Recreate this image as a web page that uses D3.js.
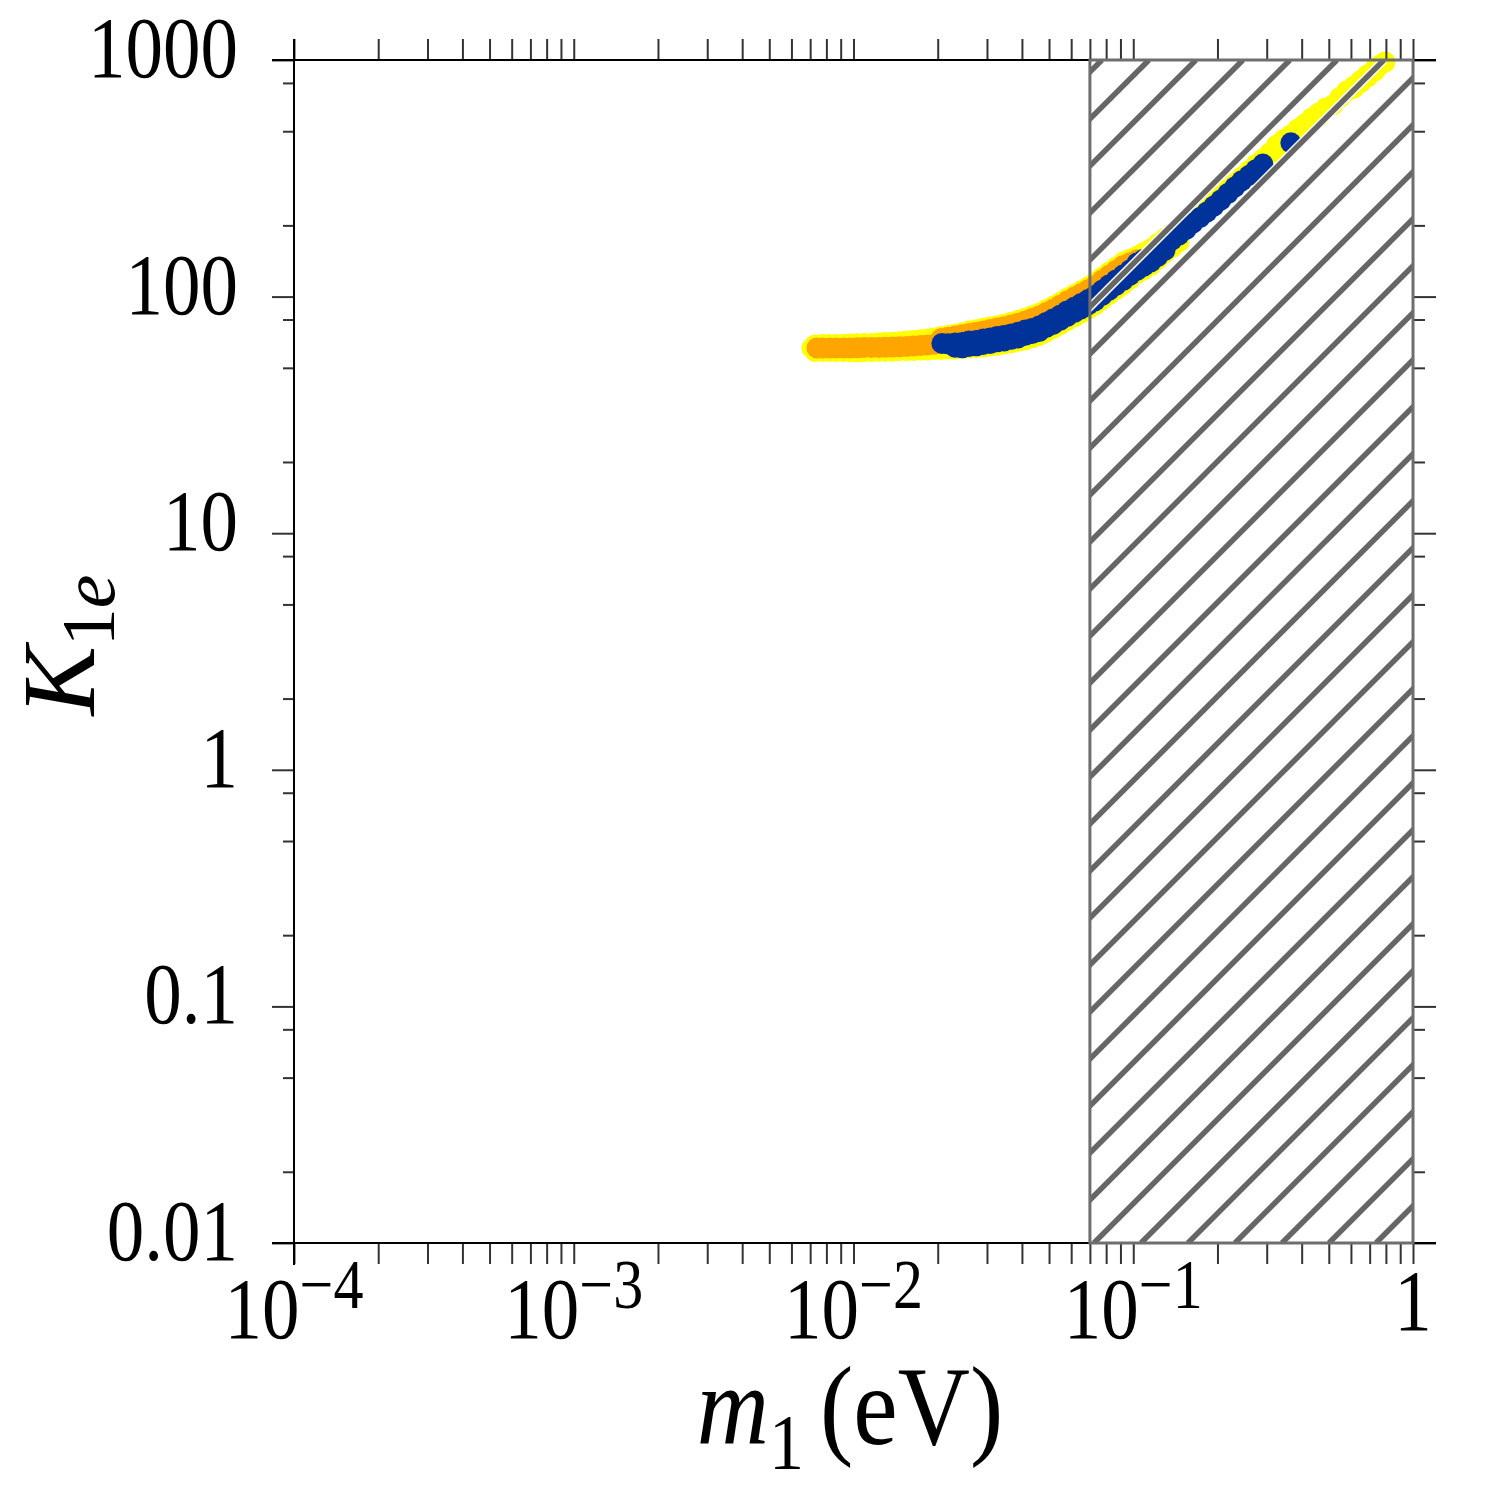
<!DOCTYPE html>
<html>
<head>
<meta charset="utf-8">
<script src="https://cdn.jsdelivr.net/npm/d3@7"></script>
<style>
body { margin: 0; background: #fff; }
text { font-family: "Liberation Serif", "DejaVu Serif", serif; fill: #000; }
</style>
</head>
<body>
<svg id="chart" width="1500" height="1500"></svg>
<script>
// tick values and labels
var xTickVals = [1e-4, 1e-3, 1e-2, 1e-1, 1];
var xTickExp = ["\u22124", "\u22123", "\u22122", "\u22121", ""];
var yTickVals = [0.01, 0.1, 1, 10, 100, 1000];
var yTickLabels = ["0.01", "0.1", "1", "10", "100", "1000"];
var yMinorVals = [0.02, 0.05, 0.08, 0.2, 0.5, 0.8, 2, 5, 8, 20, 50, 80, 200, 500, 800];

// excluded region (hatched)
var hatchFrom = 0.07, hatchTo = 1;

// scatter points [m1, K1e]
var yellowPts = [
	// upper edge
	[0.0071, 60.6], [0.0073, 62.5], [0.00775, 62.7], [0.0082, 62.8], [0.0087, 62.8], [0.0092, 62.8],
	[0.0097, 63.0], [0.0103, 63.2], [0.0109, 63.3], [0.0116, 63.4], [0.0123, 63.6], [0.0130, 63.9],
	[0.0138, 64.2], [0.0146, 64.5], [0.0155, 64.9], [0.0164, 65.2], [0.0174, 65.7], [0.0184, 66.2],
	[0.0195, 66.9], [0.0206, 67.8], [0.0218, 68.5], [0.0231, 69.4], [0.0245, 70.4], [0.0259, 71.5],
	[0.0275, 72.5], [0.0291, 73.5], [0.0308, 74.4], [0.0326, 75.3], [0.0345, 76.5], [0.0366, 77.9],
	[0.0388, 79.4], [0.0411, 81.0], [0.0435, 83.0], [0.0461, 85.0], [0.0488, 88.0], [0.0517, 91.0],
	[0.0548, 94.6], [0.0580, 98.4], [0.0615, 102.0], [0.0651, 105.8], [0.0690, 110.0], [0.0730, 114.4],
	[0.0773, 120.4], [0.0819, 126.8], [0.0868, 133.1], [0.0919, 139.6], [0.0973, 144.0], [0.1031, 148.1],
	[0.1092, 153.6], [0.1157, 159.2], [0.1225, 167.6], [0.1298, 176.3], [0.1375, 185.2], [0.1457, 192.7],
	[0.1543, 203.3], [0.1634, 214.4], [0.1731, 226.2], [0.1834, 238.7], [0.1943, 253.0], [0.2057, 268.3],
	[0.2179, 284.3], [0.2308, 301.5], [0.2445, 320.4], [0.2590, 340.5], [0.2744, 362.0], [0.2906, 381.3],
	[0.3078, 405.0], [0.3261, 437.2], [0.3454, 461.3], [0.3659, 482.1], [0.3876, 511.3], [0.4105, 536.4],
	[0.4349, 568.7], [0.4606, 597.2], [0.4879, 627.1], [0.5474, 694.5], [0.5799, 739.8], [0.6143, 774.9],
	[0.6506, 819.5], [0.6892, 866.6], [0.7300, 916.5], [0.7600, 950.0], [0.7943, 980.6],
	// centre, far end
	[0.3261, 408.6], [0.3454, 431.1], [0.3876, 482.0], [0.4105, 510.9], [0.4349, 541.6], [0.4606, 574.2],
	[0.5168, 645.4], [0.6143, 759.7], [0.6506, 803.4], [0.6892, 849.6], [0.7300, 898.5],
	// lower edge
	[0.0073, 58.6], [0.00775, 58.6], [0.0082, 58.6], [0.0087, 58.6], [0.0092, 58.6], [0.0097, 58.5],
	[0.0103, 58.4], [0.0109, 58.5], [0.0116, 58.6], [0.0123, 58.7], [0.0130, 58.8], [0.0138, 58.9],
	[0.0146, 59.1], [0.0155, 59.1], [0.0164, 59.2], [0.0174, 59.4], [0.0184, 59.5], [0.0195, 59.7],
	[0.0206, 59.8], [0.0218, 60.0], [0.0231, 60.1], [0.0245, 60.4], [0.0259, 60.7], [0.0275, 61.0],
	[0.0291, 61.3], [0.0308, 61.8], [0.0326, 62.3], [0.0345, 63.0], [0.0366, 63.8], [0.0388, 64.7],
	[0.0411, 65.7], [0.0435, 67.0], [0.0461, 68.4], [0.0488, 70.8], [0.0517, 73.2], [0.0548, 76.1],
	[0.0580, 79.1], [0.0615, 82.1], [0.0651, 85.1], [0.0690, 88.5], [0.0730, 92.1], [0.0773, 96.9],
	[0.0819, 102.0], [0.0868, 107.1], [0.0919, 112.3], [0.0973, 118.5], [0.1031, 125.0], [0.1092, 130.0],
	[0.1157, 135.6], [0.1225, 144.0], [0.1298, 153.0], [0.1375, 161.0], [0.1457, 170.3]
];

var orangePts = [
	// centre
	[0.0074, 60.7], [0.00775, 60.7], [0.0082, 60.7], [0.0087, 60.7], [0.0092, 60.7], [0.0097, 60.7],
	[0.0103, 60.8], [0.0109, 60.9], [0.0116, 61.0], [0.0123, 61.0], [0.0130, 61.1], [0.0138, 61.3],
	[0.0146, 61.4], [0.0155, 61.6], [0.0164, 61.8], [0.0174, 62.1], [0.0184, 62.4], [0.0195, 62.9],
	[0.0206, 63.4], [0.0218, 63.8], [0.0231, 64.3], [0.0245, 64.9], [0.0259, 65.6], [0.0275, 66.2],
	[0.0291, 66.8], [0.0308, 67.6], [0.0326, 68.5], [0.0345, 69.3], [0.0366, 70.2], [0.0388, 71.5],
	[0.0411, 73.0], [0.0435, 74.8], [0.0461, 76.6], [0.0488, 79.3], [0.0517, 82.0], [0.0548, 85.2],
	[0.0580, 88.6], [0.0615, 91.9], [0.0651, 95.4], [0.0690, 99.1], [0.0730, 103.1], [0.0773, 108.5],
	[0.0819, 114.2], [0.0868, 119.9], [0.0919, 125.8],
	// upper
	[0.0206, 66.5], [0.0218, 67.3], [0.0231, 68.2], [0.0245, 69.0], [0.0259, 69.8], [0.0275, 70.6],
	[0.0291, 71.5], [0.0308, 72.6], [0.0326, 73.6], [0.0345, 74.6], [0.0366, 75.8], [0.0388, 77.2],
	[0.0411, 78.8], [0.0435, 80.8], [0.0461, 82.7], [0.0488, 85.6], [0.0517, 88.5], [0.0548, 92.0],
	[0.0580, 95.7], [0.0615, 99.3], [0.0651, 103.0], [0.0690, 107.0], [0.0730, 111.0], [0.0773, 117.2],
	[0.0819, 123.0], [0.0868, 129.0], [0.0919, 135.0], [0.0973, 139.0], [0.1031, 143.0]
];

var bluePts = [
	// centre
	[0.0207, 63.4], [0.0218, 63.2], [0.0231, 63.7], [0.0245, 64.0], [0.0259, 64.9], [0.0275, 65.3],
	[0.0291, 66.2], [0.0308, 66.8], [0.0326, 67.8], [0.0345, 68.5], [0.0366, 69.5], [0.0388, 70.6],
	[0.0411, 72.2], [0.0435, 73.4], [0.0461, 75.1], [0.0488, 77.8], [0.0517, 80.4], [0.0548, 83.5],
	[0.0580, 86.9], [0.0615, 90.1], [0.0651, 93.4], [0.0690, 97.1], [0.0730, 101.0], [0.0773, 106.3],
	[0.0819, 111.9], [0.0868, 117.5], [0.0919, 123.3], [0.0973, 129.5], [0.1031, 138.6], [0.1092, 143.8],
	[0.1157, 149.1], [0.1225, 157.0], [0.1298, 165.1], [0.1375, 173.4], [0.1457, 182.2], [0.1543, 192.2],
	[0.1634, 204.7], [0.1731, 215.9], [0.1834, 227.8], [0.1943, 241.5], [0.2057, 256.1], [0.2179, 272.7],
	[0.2308, 290.5], [0.2445, 308.7], [0.2590, 324.8], [0.2744, 343.7], [0.2906, 363.2],
	[0.3659, 446.6],
	// lower
	[0.0231, 61.1], [0.0245, 60.8], [0.0259, 61.6], [0.0275, 62.0], [0.0291, 62.8], [0.0308, 63.3],
	[0.0326, 64.4], [0.0345, 64.9], [0.0366, 66.0], [0.0388, 66.9], [0.0411, 68.6], [0.0435, 69.8],
	[0.0461, 71.2], [0.0488, 74.0], [0.0517, 76.3], [0.0548, 79.4], [0.0580, 82.4], [0.0615, 85.6],
	[0.0651, 88.7], [0.0690, 92.3], [0.0730, 95.9], [0.0773, 101.0], [0.0819, 106.2], [0.0868, 111.6],
	[0.0919, 117.0], [0.0973, 123.0], [0.1031, 129.0], [0.1092, 134.5], [0.1157, 140.2], [0.1225, 148.0],
	[0.1298, 156.9]
];

var svg = d3.select("#chart"),

margin = {
	top: 60,
	right: 87,
	bottom: 257,
	left: 294
},
width = 1500 - margin.left - margin.right,
height = 1500 - margin.top - margin.bottom,

g = svg.append("g").attr("transform", "translate(" + margin.left + "," + margin.top + ")");

var x = d3.scaleLog()
	.domain([1e-4, 1])
	.range([0, width]);

var y = d3.scaleLog()
	.domain([0.01, 1000])
	.range([height, 0]);

var drawPts = function(pts, color) {
	g.append("g").selectAll("circle")
	.data(pts)
	.enter().append("circle")
	.attr("cx", function (d) { return x(d[0]); })
	.attr("cy", function (d) { return y(d[1]); })
	.attr("r", 10.5)
	.attr("fill", color);
}

drawPts(yellowPts, "#ffff00");
drawPts(orangePts, "#ffa500");
drawPts(bluePts, "#003399");

// hatched region, drawn over the points
var hx0 = x(hatchFrom), hx1 = x(hatchTo);

svg.append("defs").append("clipPath")
	.attr("id", "hatchClip")
	.append("rect")
	.attr("x", hx0)
	.attr("y", 0)
	.attr("width", hx1 - hx0)
	.attr("height", height);

var gap = 47, base = hx0 + height + 4;
var cs = [];
var c = base;
while (c > hx0) c -= gap;
for (; c < hx1 + height + gap; c += gap) cs.push(c);

var hatch = g.append("g").attr("clip-path", "url(#hatchClip)");

hatch.selectAll(".hw")
	.data(cs)
	.enter().append("line")
	.attr("x1", function (d) { return d - height; })
	.attr("y1", height)
	.attr("x2", function (d) { return d; })
	.attr("y2", 0)
	.attr("stroke", "#fff")
	.attr("stroke-width", 8.5);

hatch.selectAll(".hg")
	.data(cs)
	.enter().append("line")
	.attr("x1", function (d) { return d - height; })
	.attr("y1", height)
	.attr("x2", function (d) { return d; })
	.attr("y2", 0)
	.attr("stroke", "#666")
	.attr("stroke-width", 5.5);

// ticks
var styleTicks = function(a) {
	a.select(".domain").remove();
	a.selectAll("line").attr("stroke", "#333").attr("stroke-width", 2);
}

g.append("g")
	.attr("transform", "translate(0," + height + ")")
	.call(d3.axisBottom(x).tickValues(x.ticks()).tickSize(21).tickFormat(""))
	.call(styleTicks);

g.append("g")
	.call(d3.axisTop(x).tickValues(x.ticks()).tickSize(21).tickFormat(""))
	.call(styleTicks);

g.append("g")
	.call(d3.axisLeft(y).tickValues(yTickVals).tickSize(22).tickFormat(""))
	.call(styleTicks);

g.append("g")
	.call(d3.axisLeft(y).tickValues(yMinorVals).tickSize(11).tickFormat(""))
	.call(styleTicks);

g.append("g")
	.attr("transform", "translate(" + width + ",0)")
	.call(d3.axisRight(y).tickValues(yTickVals).tickSize(23).tickFormat(""))
	.call(styleTicks);

g.append("g")
	.attr("transform", "translate(" + width + ",0)")
	.call(d3.axisRight(y).tickValues(yMinorVals).tickSize(12).tickFormat(""))
	.call(styleTicks);

// frame
g.append("line").attr("x1", -22).attr("x2", width + 23).attr("y1", 0).attr("y2", 0)
	.attr("stroke", "#000").attr("stroke-width", 2);
g.append("line").attr("x1", -22).attr("x2", width + 23).attr("y1", height).attr("y2", height)
	.attr("stroke", "#000").attr("stroke-width", 2);
g.append("line").attr("x1", 0).attr("x2", 0).attr("y1", -21).attr("y2", height + 22)
	.attr("stroke", "#000").attr("stroke-width", 2);

g.append("rect")
	.attr("x", hx0)
	.attr("y", 0)
	.attr("width", hx1 - hx0)
	.attr("height", height)
	.attr("fill", "none")
	.attr("stroke", "#6e6e6e")
	.attr("stroke-width", 3);

// tick labels
g.selectAll(".ylab")
	.data(yTickVals)
	.enter().append("text")
	.attr("class", "ylab")
	.attr("transform", function (d) { return "translate(-56," + (y(d) + 17) + ") scale(1,1.17)"; })
	.attr("text-anchor", "end")
	.attr("font-size", "75px")
	.text(function (d, i) { return yTickLabels[i]; });

var xl = g.selectAll(".xlab")
	.data(xTickVals)
	.enter().append("text")
	.attr("class", "xlab")
	.attr("transform", function (d, i) {
		return "translate(" + x(d) + "," + (xTickExp[i] ? 1278 : 1270) + ") scale(1,1.17)";
	})
	.attr("text-anchor", "middle")
	.attr("font-size", "75px");

xl.append("tspan")
	.text(function (d, i) { return xTickExp[i] ? "10" : "1"; });

xl.append("tspan")
	.attr("font-size", "60px")
	.attr("dy", -26)
	.text(function (d, i) { return xTickExp[i]; });

// axis titles
var xt = g.append("text")
	.attr("transform", "translate(556,1384) scale(1,1.12)")
	.attr("text-anchor", "middle")
	.attr("font-size", "100px");
xt.append("tspan").attr("font-style", "italic").text("m");
xt.append("tspan").attr("font-size", "70px").attr("dy", 21).text("1");
xt.append("tspan").attr("dy", -21).attr("dx", 16).text("(eV)");

var yt = g.append("text")
	.attr("transform", "translate(-200,585) rotate(-90)")
	.attr("text-anchor", "middle")
	.attr("font-size", "104px");
yt.append("tspan").attr("font-style", "italic").text("K");
yt.append("tspan").attr("font-size", "76px").attr("dy", 20).text("1");
yt.append("tspan").attr("font-size", "76px").attr("font-style", "italic").text("e");
</script>
</body>
</html>
